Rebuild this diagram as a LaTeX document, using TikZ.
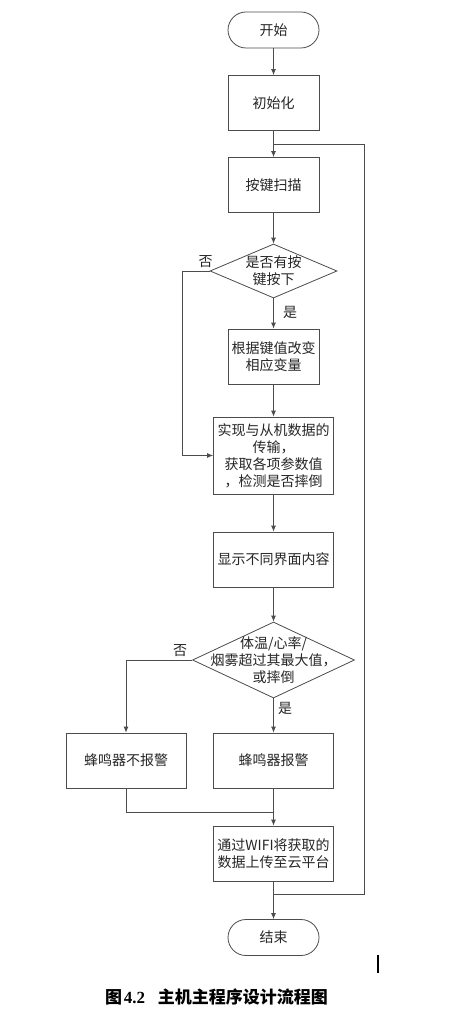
\documentclass[tikz,border=0pt]{standalone}
\usepackage{fontspec}
\setmainfont{Noto Sans CJK SC}
\newfontfamily\numfont{Liberation Serif}
\usetikzlibrary{arrows.meta,shapes.geometric}

\begin{document}
\begin{tikzpicture}[x=1pt,y=-1pt,
	every node/.style={font=\fontsize{14}{17}\selectfont, text=black!85, align=center},
	term/.style={draw=black!70, line width=0.8pt, rectangle, rounded corners=18pt, minimum width=91pt, minimum height=36pt, inner sep=0pt},
	proc/.style={draw=black!70, line width=0.8pt, rectangle, minimum width=120pt, minimum height=55pt, inner sep=0pt},
	decide/.style={draw=black!70, line width=0.8pt, diamond, inner sep=0pt},
	flow/.style={draw=black!70, line width=0.8pt, -{Latex[length=6pt,width=5pt]}},
	wire/.style={draw=black!70, line width=0.8pt}]
	%PAGE
	\fill[white] (0,0) rectangle (469,1024);
	\useasboundingbox (0,0) rectangle (469,1024);
	
	%BOXES
	\node[term] (start) at (273.5,30) {开始};
	\node[proc, minimum width=91pt] (init) at (273.5,103) {初始化};
	\node[proc, minimum width=91pt] (scan) at (273.5,185) {按键扫描};
	\node[decide, minimum width=127pt, minimum height=54pt] (key) at (273.5,271) {};
	\node (keytxt) at (key) {是否有按\\键按下};
	\node[proc, minimum width=91pt] (set) at (273.5,356.5) {根据键值改变\\相应变量};
	\node[proc, minimum height=77pt] (comm) at (273.5,455.5) {实现与从机数据的\\传输，\\获取各项参数值\\，检测是否摔倒};
	\node[proc] (disp) at (273.5,559.5) {显示不同界面内容};
	\node[decide, minimum width=162pt, minimum height=76pt] (alarm) at (273.5,660) {};
	\node (alarmtxt) at (alarm) {体温/心率/\\烟雾超过其最大值，\\或摔倒};
	\node[proc] (nobeep) at (126,760.5) {蜂鸣器不报警};
	\node[proc] (beep) at (273.5,760.5) {蜂鸣器报警};
	\node[proc] (upload) at (273.5,853.5) {通过WIFI将获取的\\数据上传至云平台};
	\node[term] (end) at (273.5,937.5) {结束};
	
	%JOINS
	\coordinate (merge) at (273.5,812);
	\coordinate (loopa) at (273.5,894);
	\coordinate (loopb) at (273.5,144);
	
	%MAIN LINE
	\draw[flow] (start) -- (init);
	\draw[flow] (init) -- (scan);
	\draw[flow] (scan) -- (key);
	\draw[flow] (key) -- node[pos=0.45, right=6pt] {是} (set);
	\draw[flow] (set) -- (comm);
	\draw[flow] (comm) -- (disp);
	\draw[flow] (disp) -- (alarm);
	\draw[flow] (alarm) -- node[pos=0.3, right=1pt] {是} (beep);
	\draw[flow] (beep) -- (upload);
	\draw[flow] (upload) -- (end);
	
	%SIDE LINES
	\draw[flow] (key.west) -- node[pos=0.15, above] {否} ++(-27,0) |- (comm.west);
	\draw[flow] (alarm.west) -| node[pos=0.09, above] {否} (nobeep.north);
	\draw[wire] (nobeep.south) |- (merge);
	\draw[wire] (loopa) -- ++(90.5,0) |- (loopb);
	
	%CURSOR
	\draw[line width=1.4pt] (378,955) -- (378,973);
	
	%CAPTION
	\node[font=\fontsize{17}{20}\selectfont\bfseries, text=black] (cap) at (216.5,997) {图\hspace{0.1em}{\numfont 4.2}\hspace{0.75em}主机主程序设计流程图};
\end{tikzpicture}
\end{document}
